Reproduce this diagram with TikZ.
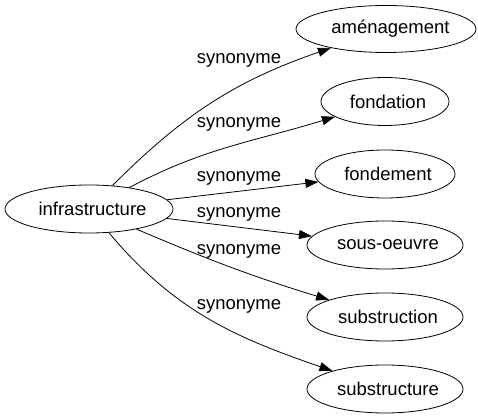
\documentclass[tikz,border=0pt]{standalone}
\usepackage{fontspec}
\setmainfont{Liberation Sans}
\usetikzlibrary{shapes.geometric,arrows.meta}
\begin{document}
\begin{tikzpicture}[x=1pt,y=1pt,
  term/.style={draw,ellipse,inner sep=0pt,line width=0.8pt,font=\fontsize{18.5}{20}\selectfont},
  lbl/.style={anchor=base,inner sep=0pt,font=\fontsize{18.5}{20}\selectfont},
  syn/.style={line width=0.8pt,-{Triangle[length=13pt,width=9pt]}}]
\useasboundingbox (0,0) rectangle (478,419);
\node[term,minimum width=168pt,minimum height=48pt] (inf) at (89,210) {\hspace*{7pt}infrastructure};
\node[term,minimum width=176pt,minimum height=47pt] (a) at (386,390) {\hspace*{9pt}aménagement};
\node[term,minimum width=128pt,minimum height=48pt] (b) at (385,317.5) {\hspace*{6pt}fondation};
\node[term,minimum width=140pt,minimum height=48pt] (c) at (385,245) {\hspace*{6pt}fondement};
\node[term,minimum width=156pt,minimum height=48pt] (d) at (385,174) {\hspace*{6pt}sous-oeuvre};
\node[term,minimum width=156pt,minimum height=48pt] (e) at (385,102) {\hspace*{6pt}substruction};
\node[term,minimum width=156pt,minimum height=48pt] (f) at (385,30) {\hspace*{6pt}substructure};
\draw[syn] (inf) to[out=45,in=199] (a);
\draw[syn] (inf) to[out=28,in=197] (b);
\draw[syn] (inf) -- (c);
\draw[syn] (inf) -- (d);
\draw[syn] (inf) to[out=-23,in=163] (e);
\draw[syn] (inf) to[out=-50,in=161] (f);
\node[lbl] (l1) at (239,355) {synonyme};
\node[lbl] (l2) at (239,291) {synonyme};
\node[lbl] (l3) at (239,237.5) {synonyme};
\node[lbl] (l4) at (239,201) {synonyme};
\node[lbl] (l5) at (239,164) {synonyme};
\node[lbl] (l6) at (239,109) {synonyme};
\end{tikzpicture}
\end{document}
